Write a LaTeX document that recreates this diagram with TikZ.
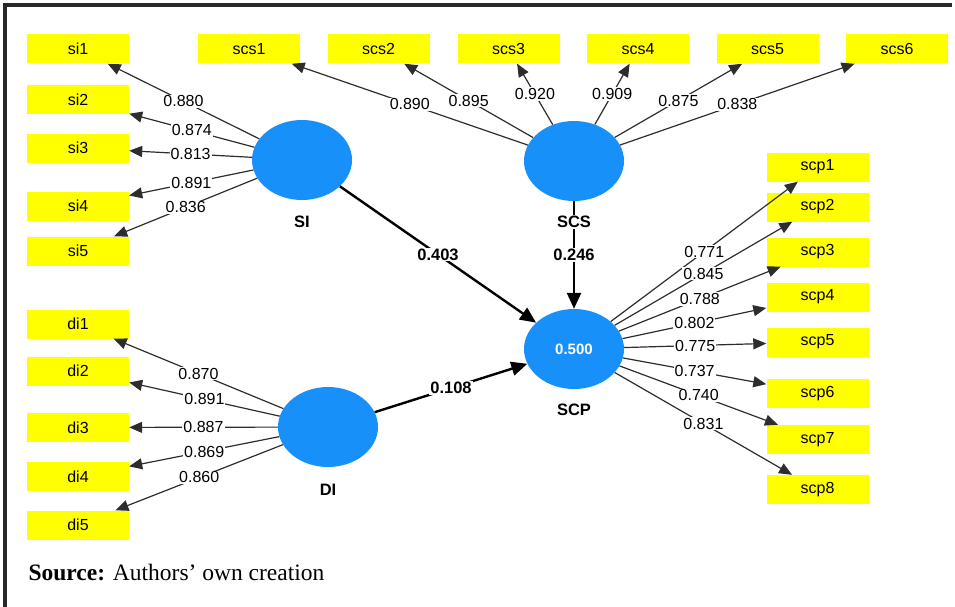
\documentclass[tikz,border=0pt]{standalone}
\usepackage{fontspec}
\setmainfont{Liberation Sans}
\newfontfamily\timesfont{Liberation Serif}
\usepackage{tikz}
\usetikzlibrary{shapes.geometric,arrows.meta}
\definecolor{itemyellow}{RGB}{255,255,0}
\definecolor{latentblue}{RGB}{24,144,250}
\definecolor{loadgray}{RGB}{45,45,45}
\definecolor{framegray}{RGB}{40,40,40}

\begin{document}
\begin{tikzpicture}[x=1pt,y=-1pt,
    item/.style={fill=itemyellow,minimum width=102pt,minimum height=29pt,inner sep=0pt,font=\fontsize{16}{16}\selectfont},
    latent/.style={ellipse,fill=latentblue,minimum width=100pt,minimum height=80pt,inner sep=0pt},
    latentname/.style={fill=white,inner sep=1pt,font=\bfseries\fontsize{16.5}{16.5}\selectfont},
    loading/.style={draw=loadgray,line width=1.2pt,-{Triangle[length=13pt,width=11pt]}},
    effect/.style={draw=black,line width=2.4pt,-{Triangle[length=16pt,width=14pt]}},
    loadlabel/.style={midway,fill=white,inner sep=1pt,font=\fontsize{16}{16}\selectfont},
    effectlabel/.style={midway,fill=white,inner sep=1pt,font=\bfseries\fontsize{16.5}{16.5}\selectfont}]
    \useasboundingbox (0,0) rectangle (955,607);
    \draw[framegray,line width=3.8pt] (5,607) -- (5,5) -- (952,5);

    % latent variables
    \node[latent] (SI) at (302,160) {};
    \node[latent] (SCS) at (574,161) {};
    \node[latent] (SCP) at (574,349) {\color{white}\bfseries\fontsize{15}{15}\selectfont 0.500};
    \node[latent] (DI) at (328,427) {};

    % indicators
    \node[item] (si1) at (78,49) {si1};
    \node[item] (si2) at (78,100) {si2};
    \node[item] (si3) at (78,148) {si3};
    \node[item] (si4) at (78,206) {si4};
    \node[item] (si5) at (78,251) {si5};

    \node[item] (scs1) at (249,49) {scs1};
    \node[item] (scs2) at (378.5,49) {scs2};
    \node[item] (scs3) at (508.5,49) {scs3};
    \node[item] (scs4) at (638,49) {scs4};
    \node[item] (scs5) at (767.5,49) {scs5};
    \node[item] (scs6) at (897,49) {scs6};

    \node[item] (scp1) at (817.5,167) {scp1};
    \node[item] (scp2) at (817.5,207) {scp2};
    \node[item] (scp3) at (817.5,252) {scp3};
    \node[item] (scp4) at (817.5,297) {scp4};
    \node[item] (scp5) at (817.5,342) {scp5};
    \node[item] (scp6) at (817.5,393.5) {scp6};
    \node[item] (scp7) at (817.5,439.5) {scp7};
    \node[item] (scp8) at (817.5,489.5) {scp8};

    \node[item] (di1) at (78,324) {di1};
    \node[item] (di2) at (78,371) {di2};
    \node[item] (di3) at (78,427.5) {di3};
    \node[item] (di4) at (78,476.5) {di4};
    \node[item] (di5) at (78,525) {di5};

    % outer loadings
    \draw[loading] (SI) -- node[loadlabel]{0.880} (si1);
    \draw[loading] (SI) -- node[loadlabel]{0.874} (si2);
    \draw[loading] (SI) -- node[loadlabel]{0.813} (si3);
    \draw[loading] (SI) -- node[loadlabel]{0.891} (si4);
    \draw[loading] (SI) -- node[loadlabel]{0.836} (si5);

    \draw[loading] (SCS) -- node[loadlabel]{0.890} (scs1);
    \draw[loading] (SCS) -- node[loadlabel]{0.895} (scs2);
    \draw[loading] (SCS) -- node[loadlabel]{0.920} (scs3);
    \draw[loading] (SCS) -- node[loadlabel]{0.909} (scs4);
    \draw[loading] (SCS) -- node[loadlabel]{0.875} (scs5);
    \draw[loading] (SCS) -- node[loadlabel]{0.838} (scs6);

    \draw[loading] (SCP) -- node[loadlabel]{0.771} (scp1);
    \draw[loading] (SCP) -- node[loadlabel]{0.845} (scp2);
    \draw[loading] (SCP) -- node[loadlabel]{0.788} (scp3);
    \draw[loading] (SCP) -- node[loadlabel]{0.802} (scp4);
    \draw[loading] (SCP) -- node[loadlabel]{0.775} (scp5);
    \draw[loading] (SCP) -- node[loadlabel]{0.737} (scp6);
    \draw[loading] (SCP) -- node[loadlabel]{0.740} (scp7);
    \draw[loading] (SCP) -- node[loadlabel]{0.831} (scp8);

    \draw[loading] (DI) -- node[loadlabel]{0.870} (di1);
    \draw[loading] (DI) -- node[loadlabel]{0.891} (di2);
    \draw[loading] (DI) -- node[loadlabel]{0.887} (di3);
    \draw[loading] (DI) -- node[loadlabel]{0.869} (di4);
    \draw[loading] (DI) -- node[loadlabel]{0.860} (di5);

    % path coefficients
    \draw[effect] (SI) -- node[effectlabel]{0.403} (SCP);
    \draw[effect] (SCS) -- node[effectlabel]{0.246} (SCP);
    \draw[effect] (DI) -- node[effectlabel]{0.108} (SCP);

    % construct names
    \node[latentname] (SIname) at (302,222) {SI};
    \node[latentname] (SCSname) at (574,222) {SCS};
    \node[latentname] (SCPname) at (574,410) {SCP};
    \node[latentname] (DIname) at (328,490) {DI};

    \node[anchor=west,font=\timesfont\fontsize{23.5}{23.5}\selectfont] (source) at (25,573) {\textbf{Source:} Authors’ own creation};
\end{tikzpicture}
\end{document}
